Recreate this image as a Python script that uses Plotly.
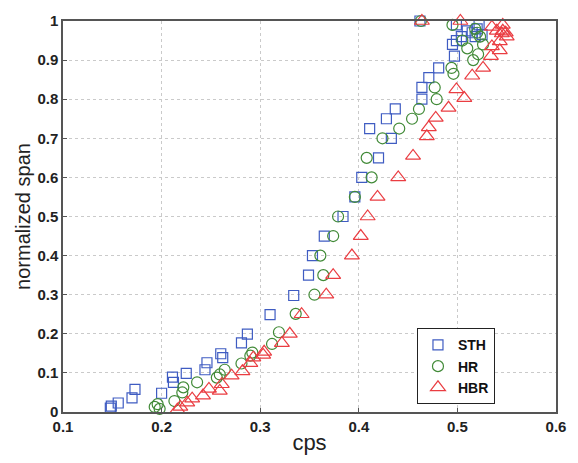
import plotly.graph_objects as go

sth_x = [0.148, 0.149, 0.156, 0.170, 0.173, 0.200, 0.211, 0.212, 0.225, 0.244, 0.246, 0.260, 0.262,
         0.281, 0.287, 0.310, 0.334, 0.349, 0.353, 0.365, 0.384, 0.396, 0.403, 0.420, 0.433, 0.411,
         0.428, 0.437, 0.464, 0.464, 0.471, 0.481, 0.497, 0.495, 0.499, 0.504, 0.462, 0.499, 0.510,
         0.515, 0.520, 0.525, 0.518, 0.522]
sth_y = [0.010, 0.015, 0.023, 0.036, 0.058, 0.048, 0.089, 0.076, 0.099, 0.108, 0.126, 0.149, 0.139,
         0.177, 0.199, 0.249, 0.298, 0.350, 0.400, 0.450, 0.500, 0.550, 0.600, 0.650, 0.700, 0.725,
         0.750, 0.775, 0.800, 0.830, 0.855, 0.880, 0.910, 0.940, 0.950, 0.960, 1.000, 0.990, 0.975,
         0.970, 0.980, 0.965, 0.960, 0.990]

hr_x = [0.193, 0.196, 0.198, 0.213, 0.221, 0.222, 0.236, 0.256, 0.259, 0.264, 0.281, 0.290, 0.292,
        0.312, 0.319, 0.336, 0.355, 0.364, 0.361, 0.374, 0.379, 0.396, 0.413, 0.408, 0.424, 0.441,
        0.454, 0.461, 0.479, 0.477, 0.494, 0.496, 0.516, 0.521, 0.510, 0.505, 0.526, 0.495, 0.463,
        0.518, 0.523, 0.520]
hr_y = [0.013, 0.020, 0.008, 0.028, 0.050, 0.063, 0.076, 0.088, 0.096, 0.108, 0.124, 0.144, 0.152,
        0.174, 0.204, 0.251, 0.300, 0.350, 0.400, 0.450, 0.500, 0.550, 0.600, 0.650, 0.700, 0.725,
        0.750, 0.775, 0.800, 0.830, 0.880, 0.865, 0.900, 0.915, 0.930, 0.950, 0.940, 0.990, 1.000,
        0.980, 0.960, 0.970]

hbr_x = [0.216, 0.219, 0.226, 0.231, 0.242, 0.248, 0.259, 0.261, 0.271, 0.282, 0.290, 0.293, 0.303,
         0.304, 0.322, 0.330, 0.342, 0.367, 0.374, 0.393, 0.402, 0.409, 0.419, 0.440, 0.455, 0.469,
         0.471, 0.478, 0.491, 0.499, 0.507, 0.515, 0.526, 0.534, 0.543, 0.535, 0.543, 0.545, 0.535,
         0.540, 0.546, 0.550, 0.549, 0.546, 0.464, 0.503]
hbr_y = [0.006, 0.013, 0.024, 0.034, 0.042, 0.059, 0.054, 0.071, 0.093, 0.104, 0.125, 0.139, 0.146,
         0.154, 0.176, 0.200, 0.250, 0.300, 0.350, 0.400, 0.450, 0.500, 0.550, 0.600, 0.655, 0.705,
         0.728, 0.752, 0.778, 0.825, 0.803, 0.860, 0.880, 0.910, 0.925, 0.935, 0.948, 0.968, 0.985,
         0.975, 0.975, 0.960, 0.970, 0.990, 1.000, 1.000]

x_ticks = [0.1, 0.2, 0.3, 0.4, 0.5, 0.6]
x_ticktext = ["0.1", "0.2", "0.3", "0.4", "0.5", "0.6"]
y_ticks = [0, 0.1, 0.2, 0.3, 0.4, 0.5, 0.6, 0.7, 0.8, 0.9, 1]
y_ticktext = ["0", "0.1", "0.2", "0.3", "0.4", "0.5", "0.6", "0.7", "0.8", "0.9", "1"]

BLUE = "#3f5cc2"
GREEN = "#418a37"
RED = "#ea3d42"
FONT = "Liberation Sans, Arial, sans-serif"

fig = go.Figure()
fig.add_trace(go.Scatter(x=sth_x, y=sth_y, mode="markers", name="STH", cliponaxis=False,
                         marker=dict(symbol="square-open", size=10, color=BLUE, line=dict(width=1.2, color=BLUE))))
fig.add_trace(go.Scatter(x=hr_x, y=hr_y, mode="markers", name="HR", cliponaxis=False,
                         marker=dict(symbol="circle-open", size=11, color=GREEN, line=dict(width=1.2, color=GREEN))))
fig.add_trace(go.Scatter(x=hbr_x, y=hbr_y, mode="markers", name="HBR", cliponaxis=False,
                         marker=dict(symbol="triangle-up-open", size=13, color=RED, line=dict(width=1.2, color=RED))))

tickfont = dict(family=FONT, size=15, color="#222", weight="bold")
axis_common = dict(showline=True, linecolor="#555", linewidth=1.5, mirror=True, ticks="inside",
                   ticklen=4, tickcolor="#555", showgrid=True, gridcolor="#cacaca", griddash="dot",
                   gridwidth=1, zeroline=False, tickfont=tickfont)

fig.update_layout(
    width=578, height=463,
    margin=dict(l=63, r=22, t=15, b=50),
    paper_bgcolor="white", plot_bgcolor="white",
    xaxis=dict(range=[0.1, 0.6], tickvals=x_ticks, ticktext=x_ticktext,
               title=dict(text="cps", font=dict(family=FONT, size=22, color="#222"), standoff=1),
               **axis_common),
    yaxis=dict(range=[0, 1], tickvals=y_ticks, ticktext=y_ticktext,
               title=dict(text="normalized span", font=dict(family=FONT, size=20, color="#222"), standoff=1),
               **axis_common),
    legend=dict(x=0.718, y=0.214, xanchor="left", yanchor="top", bgcolor="white",
                bordercolor="#222", borderwidth=1,
                font=dict(family=FONT, size=14, color="#111", weight="bold"),
                itemwidth=30, tracegroupgap=0),
    showlegend=True,
)

fig.write_html("out.html")
